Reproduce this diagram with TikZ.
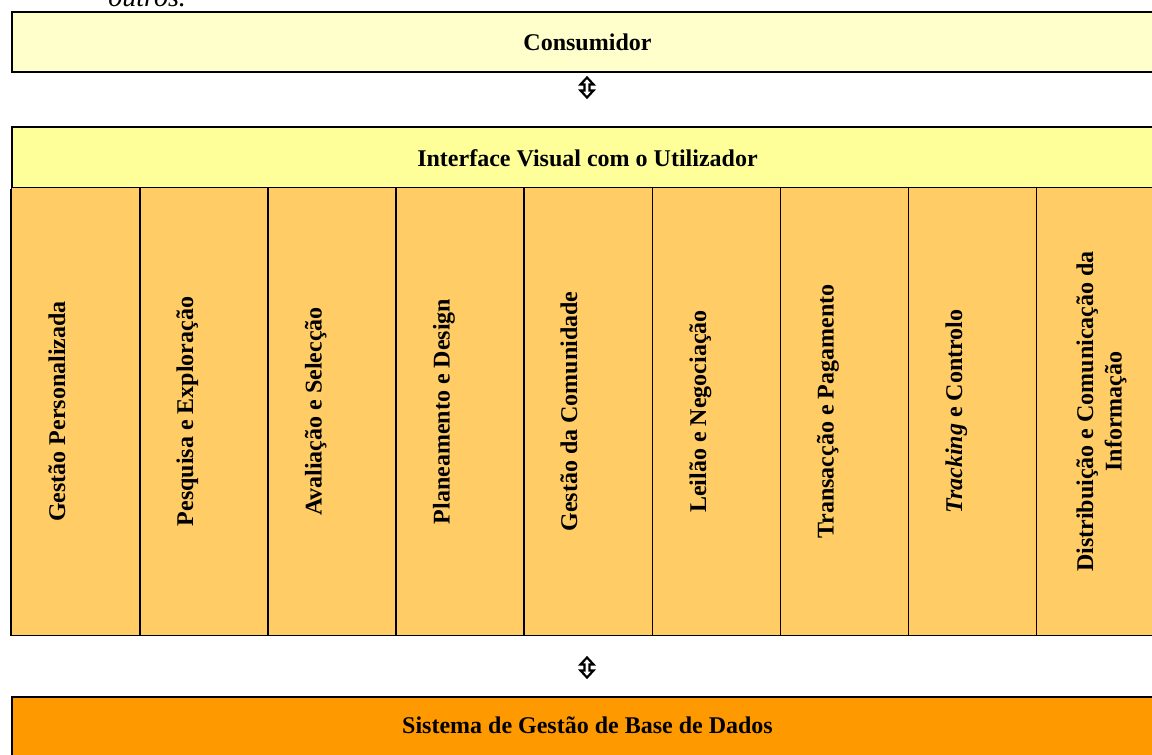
\documentclass[tikz,border=0pt]{standalone}
\usepackage{fontspec}
\setmainfont{Liberation Serif}
\usetikzlibrary{calc}
\definecolor{consfill}{HTML}{FFFFCC}
\definecolor{ifacefill}{HTML}{FFFF99}
\definecolor{colfill}{HTML}{FFCC66}
\definecolor{dbfill}{HTML}{FF9900}
\begin{document}
\begin{tikzpicture}[x=0.5pt,y=-0.5pt,
  box/.style={draw=black, line width=0.9pt, inner sep=0pt, anchor=north west},
  colbox/.style={draw=black, line width=0.7pt, fill=colfill, inner sep=0pt, anchor=north west,
                 minimum width=64.06pt, minimum height=224pt},
  lbl/.style={font=\bfseries\fontsize{12}{14.35}\selectfont, inner sep=0pt, anchor=base},
  vlbl/.style={lbl, rotate=90},
  updownarrow/.style={draw=black, fill=white, line width=1.1pt, line join=miter}]
\useasboundingbox (0,0) rectangle (1152,755);
\clip (0,0) rectangle (1152,755);
\fill[white] (0,0) rectangle (1152,755);

% partial line of preceding text
\node[font=\itshape\fontsize{14}{16}\selectfont, anchor=base west, inner sep=0pt] (prev) at (108,6) {outros.};

% Consumidor
\node[box, fill=consfill, minimum width=576.5pt, minimum height=30pt] (cons) at (11,11) {};
\node[lbl] (consT) at (587.5,50) {Consumidor};

% Interface
\node[box, fill=ifacefill, minimum width=576.5pt, minimum height=30.5pt] (iface) at (11,126) {};
\node[lbl] (ifaceT) at (587.5,166) {Interface Visual com o Utilizador};

% columns
\foreach \i in {0,...,8}{
  \node[colbox] (c\i) at ({11+128.125*\i},187) {};
}
\draw[line width=0.9pt] (iface.south west) -- (c0.south west);

\node[vlbl] (t0) at (65,411.5) {Gestão Personalizada};
\node[vlbl] (t1) at (193,411.5) {Pesquisa e Exploração};
\node[vlbl] (t2) at (321.5,411.5) {Avaliação e Selecção};
\node[vlbl] (t3) at (449.5,411.5) {Planeamento e Design};
\node[vlbl] (t4) at (577,411.5) {Gestão da Comunidade};
\node[vlbl] (t5) at (706,411.5) {Leilão e Negociação};
\node[vlbl] (t6) at (833.5,411.5) {Transacção e Pagamento};
\node[vlbl] (t7) at (962,411.5) {\textit{Tracking} e Controlo};
\node[vlbl] (t8) at (1121.7,411.5) {\begin{tabular}[b]{@{}c@{}}Distribuição e Comunicação da\\Informação\end{tabular}};

% Sistema de Gestão de Base de Dados
\node[box, fill=dbfill, minimum width=576.5pt, minimum height=50pt] (db) at (11,696) {};
\node[lbl] (dbT) at (587.5,733) {Sistema de Gestão de Base de Dados};

% hollow up-down arrows
\coordinate (arrA) at (587,87.5);
\coordinate (arrB) at (587,667.5);
\foreach \a in {arrA,arrB}{
  \draw[updownarrow, shift={(\a)}]
    (0,-10) -- (6.5,-3) -- (2.5,-3) -- (2.5,3) -- (6.5,3) -- (0,10)
    -- (-6.5,3) -- (-2.5,3) -- (-2.5,-3) -- (-6.5,-3) -- cycle;
}
\end{tikzpicture}
\end{document}
